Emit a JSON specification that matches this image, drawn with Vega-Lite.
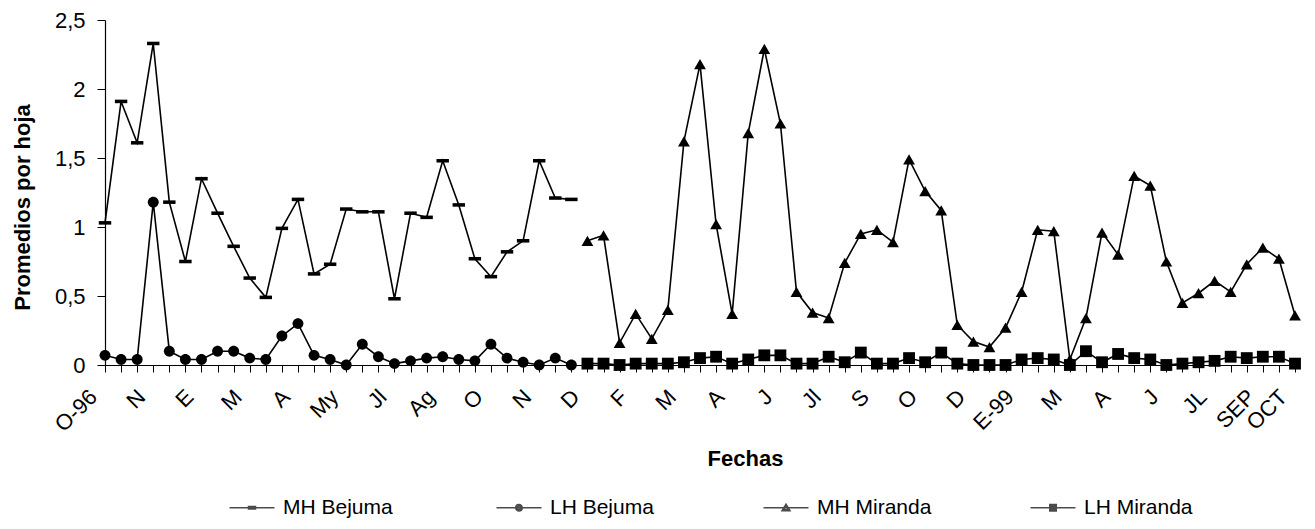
{
  "$schema": "https://vega.github.io/schema/vega-lite/v6.json",
  "width": 1190,
  "height": 345,
  "autosize": "none",
  "padding": {"left": 105, "top": 20, "right": 20, "bottom": 164},
  "background": "white",
  "config": {
    "view": {"stroke": null},
    "font": "Liberation Sans",
    "axis": {"labelFont": "Liberation Sans", "titleFont": "Liberation Sans", "labelColor": "black", "titleColor": "black", "domainColor": "black", "tickColor": "black", "grid": false},
    "legend": {"labelFont": "Liberation Sans"}
  },
  "data": {
    "values": [
      {"i": 0, "serie": "MH Bejuma", "v": 1.03}, {"i": 1, "serie": "MH Bejuma", "v": 1.91}, {"i": 2, "serie": "MH Bejuma", "v": 1.61}, {"i": 3, "serie": "MH Bejuma", "v": 2.33}, {"i": 4, "serie": "MH Bejuma", "v": 1.18}, {"i": 5, "serie": "MH Bejuma", "v": 0.75}, {"i": 6, "serie": "MH Bejuma", "v": 1.35}, {"i": 7, "serie": "MH Bejuma", "v": 1.10}, {"i": 8, "serie": "MH Bejuma", "v": 0.86}, {"i": 9, "serie": "MH Bejuma", "v": 0.63},
      {"i": 10, "serie": "MH Bejuma", "v": 0.49}, {"i": 11, "serie": "MH Bejuma", "v": 0.99}, {"i": 12, "serie": "MH Bejuma", "v": 1.20}, {"i": 13, "serie": "MH Bejuma", "v": 0.66}, {"i": 14, "serie": "MH Bejuma", "v": 0.73}, {"i": 15, "serie": "MH Bejuma", "v": 1.13}, {"i": 16, "serie": "MH Bejuma", "v": 1.11}, {"i": 17, "serie": "MH Bejuma", "v": 1.11}, {"i": 18, "serie": "MH Bejuma", "v": 0.48}, {"i": 19, "serie": "MH Bejuma", "v": 1.10},
      {"i": 20, "serie": "MH Bejuma", "v": 1.07}, {"i": 21, "serie": "MH Bejuma", "v": 1.48}, {"i": 22, "serie": "MH Bejuma", "v": 1.16}, {"i": 23, "serie": "MH Bejuma", "v": 0.77}, {"i": 24, "serie": "MH Bejuma", "v": 0.64}, {"i": 25, "serie": "MH Bejuma", "v": 0.82}, {"i": 26, "serie": "MH Bejuma", "v": 0.90}, {"i": 27, "serie": "MH Bejuma", "v": 1.48}, {"i": 28, "serie": "MH Bejuma", "v": 1.21}, {"i": 29, "serie": "MH Bejuma", "v": 1.20},
      {"i": 0, "serie": "LH Bejuma", "v": 0.07}, {"i": 1, "serie": "LH Bejuma", "v": 0.04}, {"i": 2, "serie": "LH Bejuma", "v": 0.04}, {"i": 3, "serie": "LH Bejuma", "v": 1.18}, {"i": 4, "serie": "LH Bejuma", "v": 0.10}, {"i": 5, "serie": "LH Bejuma", "v": 0.04}, {"i": 6, "serie": "LH Bejuma", "v": 0.04}, {"i": 7, "serie": "LH Bejuma", "v": 0.10}, {"i": 8, "serie": "LH Bejuma", "v": 0.10}, {"i": 9, "serie": "LH Bejuma", "v": 0.05},
      {"i": 10, "serie": "LH Bejuma", "v": 0.04}, {"i": 11, "serie": "LH Bejuma", "v": 0.21}, {"i": 12, "serie": "LH Bejuma", "v": 0.30}, {"i": 13, "serie": "LH Bejuma", "v": 0.07}, {"i": 14, "serie": "LH Bejuma", "v": 0.04}, {"i": 15, "serie": "LH Bejuma", "v": 0.00}, {"i": 16, "serie": "LH Bejuma", "v": 0.15}, {"i": 17, "serie": "LH Bejuma", "v": 0.06}, {"i": 18, "serie": "LH Bejuma", "v": 0.01}, {"i": 19, "serie": "LH Bejuma", "v": 0.03},
      {"i": 20, "serie": "LH Bejuma", "v": 0.05}, {"i": 21, "serie": "LH Bejuma", "v": 0.06}, {"i": 22, "serie": "LH Bejuma", "v": 0.04}, {"i": 23, "serie": "LH Bejuma", "v": 0.03}, {"i": 24, "serie": "LH Bejuma", "v": 0.15}, {"i": 25, "serie": "LH Bejuma", "v": 0.05}, {"i": 26, "serie": "LH Bejuma", "v": 0.02}, {"i": 27, "serie": "LH Bejuma", "v": 0.00}, {"i": 28, "serie": "LH Bejuma", "v": 0.05}, {"i": 29, "serie": "LH Bejuma", "v": 0.00},
      {"i": 30, "serie": "MH Miranda", "v": 0.90}, {"i": 31, "serie": "MH Miranda", "v": 0.94}, {"i": 32, "serie": "MH Miranda", "v": 0.16}, {"i": 33, "serie": "MH Miranda", "v": 0.37}, {"i": 34, "serie": "MH Miranda", "v": 0.19}, {"i": 35, "serie": "MH Miranda", "v": 0.40}, {"i": 36, "serie": "MH Miranda", "v": 1.62}, {"i": 37, "serie": "MH Miranda", "v": 2.18}, {"i": 38, "serie": "MH Miranda", "v": 1.02}, {"i": 39, "serie": "MH Miranda", "v": 0.37},
      {"i": 40, "serie": "MH Miranda", "v": 1.68}, {"i": 41, "serie": "MH Miranda", "v": 2.29}, {"i": 42, "serie": "MH Miranda", "v": 1.75}, {"i": 43, "serie": "MH Miranda", "v": 0.53}, {"i": 44, "serie": "MH Miranda", "v": 0.38}, {"i": 45, "serie": "MH Miranda", "v": 0.34}, {"i": 46, "serie": "MH Miranda", "v": 0.74}, {"i": 47, "serie": "MH Miranda", "v": 0.95}, {"i": 48, "serie": "MH Miranda", "v": 0.98}, {"i": 49, "serie": "MH Miranda", "v": 0.89},
      {"i": 50, "serie": "MH Miranda", "v": 1.49}, {"i": 51, "serie": "MH Miranda", "v": 1.26}, {"i": 52, "serie": "MH Miranda", "v": 1.12}, {"i": 53, "serie": "MH Miranda", "v": 0.29}, {"i": 54, "serie": "MH Miranda", "v": 0.17}, {"i": 55, "serie": "MH Miranda", "v": 0.13}, {"i": 56, "serie": "MH Miranda", "v": 0.27}, {"i": 57, "serie": "MH Miranda", "v": 0.53}, {"i": 58, "serie": "MH Miranda", "v": 0.98}, {"i": 59, "serie": "MH Miranda", "v": 0.97},
      {"i": 60, "serie": "MH Miranda", "v": 0.04}, {"i": 61, "serie": "MH Miranda", "v": 0.34}, {"i": 62, "serie": "MH Miranda", "v": 0.96}, {"i": 63, "serie": "MH Miranda", "v": 0.80}, {"i": 64, "serie": "MH Miranda", "v": 1.37}, {"i": 65, "serie": "MH Miranda", "v": 1.30}, {"i": 66, "serie": "MH Miranda", "v": 0.75}, {"i": 67, "serie": "MH Miranda", "v": 0.45}, {"i": 68, "serie": "MH Miranda", "v": 0.52}, {"i": 69, "serie": "MH Miranda", "v": 0.61},
      {"i": 70, "serie": "MH Miranda", "v": 0.53}, {"i": 71, "serie": "MH Miranda", "v": 0.73}, {"i": 72, "serie": "MH Miranda", "v": 0.85}, {"i": 73, "serie": "MH Miranda", "v": 0.77}, {"i": 74, "serie": "MH Miranda", "v": 0.36},
      {"i": 30, "serie": "LH Miranda", "v": 0.01}, {"i": 31, "serie": "LH Miranda", "v": 0.01}, {"i": 32, "serie": "LH Miranda", "v": 0.00}, {"i": 33, "serie": "LH Miranda", "v": 0.01}, {"i": 34, "serie": "LH Miranda", "v": 0.01}, {"i": 35, "serie": "LH Miranda", "v": 0.01}, {"i": 36, "serie": "LH Miranda", "v": 0.02}, {"i": 37, "serie": "LH Miranda", "v": 0.05}, {"i": 38, "serie": "LH Miranda", "v": 0.06}, {"i": 39, "serie": "LH Miranda", "v": 0.01},
      {"i": 40, "serie": "LH Miranda", "v": 0.04}, {"i": 41, "serie": "LH Miranda", "v": 0.07}, {"i": 42, "serie": "LH Miranda", "v": 0.07}, {"i": 43, "serie": "LH Miranda", "v": 0.01}, {"i": 44, "serie": "LH Miranda", "v": 0.01}, {"i": 45, "serie": "LH Miranda", "v": 0.06}, {"i": 46, "serie": "LH Miranda", "v": 0.02}, {"i": 47, "serie": "LH Miranda", "v": 0.09}, {"i": 48, "serie": "LH Miranda", "v": 0.01}, {"i": 49, "serie": "LH Miranda", "v": 0.01},
      {"i": 50, "serie": "LH Miranda", "v": 0.05}, {"i": 51, "serie": "LH Miranda", "v": 0.02}, {"i": 52, "serie": "LH Miranda", "v": 0.09}, {"i": 53, "serie": "LH Miranda", "v": 0.01}, {"i": 54, "serie": "LH Miranda", "v": 0.00}, {"i": 55, "serie": "LH Miranda", "v": 0.00}, {"i": 56, "serie": "LH Miranda", "v": 0.00}, {"i": 57, "serie": "LH Miranda", "v": 0.04}, {"i": 58, "serie": "LH Miranda", "v": 0.05}, {"i": 59, "serie": "LH Miranda", "v": 0.04},
      {"i": 60, "serie": "LH Miranda", "v": 0.00}, {"i": 61, "serie": "LH Miranda", "v": 0.10}, {"i": 62, "serie": "LH Miranda", "v": 0.02}, {"i": 63, "serie": "LH Miranda", "v": 0.08}, {"i": 64, "serie": "LH Miranda", "v": 0.05}, {"i": 65, "serie": "LH Miranda", "v": 0.04}, {"i": 66, "serie": "LH Miranda", "v": 0.00}, {"i": 67, "serie": "LH Miranda", "v": 0.01}, {"i": 68, "serie": "LH Miranda", "v": 0.02}, {"i": 69, "serie": "LH Miranda", "v": 0.03},
      {"i": 70, "serie": "LH Miranda", "v": 0.06}, {"i": 71, "serie": "LH Miranda", "v": 0.05}, {"i": 72, "serie": "LH Miranda", "v": 0.06}, {"i": 73, "serie": "LH Miranda", "v": 0.06}, {"i": 74, "serie": "LH Miranda", "v": 0.01}
    ]
  },
  "encoding": {
    "x": {
      "field": "i", "type": "quantitative",
      "scale": {"domain": [0, 74], "nice": false, "zero": false},
      "axis": {
        "title": "Fechas",
        "titleFontSize": 22, "titleFontWeight": "bold",
        "titleX": 640, "titleY": 93, "titleBaseline": "middle",
        "values": [0,1,2,3,4,5,6,7,8,9,10,11,12,13,14,15,16,17,18,19,20,21,22,23,24,25,26,27,28,29,30,31,32,33,34,35,36,37,38,39,40,41,42,43,44,45,46,47,48,49,50,51,52,53,54,55,56,57,58,59,60,61,62,63,64,65,66,67,68,69,70,71,72,73,74],
        "labelExpr": "['O-96','','','N','','','E','','','M','','','A','','','My','','','Jl','','','Ag','','','O','','','N','','','D','','','F','','','M','','','A','','','J','','','Jl','','','S','','','O','','','D','','','E-99','','','M','','','A','','','J','','','JL','','','SEP','','OCT'][datum.value]",
        "labelAngle": -45, "labelAlign": "right", "labelBaseline": "middle",
        "labelFontSize": 22, "labelOffset": -12, "labelPadding": 21,
        "labelOverlap": false, "labelFlush": false, "labelBound": false,
        "tickSize": 7, "tickWidth": 1, "domainWidth": 1.2
      }
    },
    "y": {
      "field": "v", "type": "quantitative",
      "scale": {"domain": [0, 2.5], "nice": false},
      "axis": {
        "title": "Promedios por hoja",
        "titleFontSize": 22, "titleFontWeight": "bold",
        "titleX": -83, "titleY": 187, "titleBaseline": "middle", "titleAngle": -90,
        "values": [0, 0.5, 1, 1.5, 2, 2.5],
        "labelExpr": "replace(format(datum.value, '~g'), '.', ',')",
        "labelFontSize": 22, "labelPadding": 12,
        "tickSize": 8, "tickWidth": 1, "domainWidth": 1.2
      }
    }
  },
  "layer": [
    {
      "mark": {"type": "line", "color": "black", "strokeWidth": 1.6},
      "encoding": {"detail": {"field": "serie"}}
    },
    {
      "mark": {"type": "point", "filled": true, "color": "black", "opacity": 1, "size": 140},
      "encoding": {
        "shape": {
          "field": "serie", "type": "nominal",
          "scale": {
            "domain": ["MH Bejuma", "LH Bejuma", "MH Miranda", "LH Miranda"],
            "range": ["M-1.05,-0.3H1.05V0.3H-1.05Z", "M-0.92,0A0.92,0.92 0 1,0 0.92,0A0.92,0.92 0 1,0 -0.92,0Z", "triangle-up", "square"]
          },
          "legend": null
        }
      }
    },
    {
      "mark": {"type": "point", "filled": false, "color": "black", "strokeWidth": 1.5, "size": 0},
      "encoding": {
        "shape": {
          "field": "serie", "type": "nominal",
          "scale": {
            "domain": ["MH Bejuma", "LH Bejuma", "MH Miranda", "LH Miranda"],
            "range": [
              "M-1,0H8M2.8,-0.25H4.2V0.25H2.8Z",
              "M-1,0H8M2.85,0A0.65,0.65 0 1,0 4.15,0A0.65,0.65 0 1,0 2.85,0ZM3.15,0A0.35,0.35 0 1,0 3.85,0A0.35,0.35 0 1,0 3.15,0ZM3.4,0H3.6",
              "M-1,0H8M3.5,-0.7L4.3,0.6H2.7ZM3.5,-0.3L3.95,0.4H3.05Z",
              "M-1,0H8M2.85,-0.65H4.15V0.65H2.85ZM3.15,-0.35H3.85V0.35H3.15ZM3.4,-0.1H3.6V0.1H3.4Z"
            ]
          },
          "legend": {
            "title": null, "orient": "none", "direction": "horizontal", "columns": 4,
            "legendX": 119, "legendY": 477, "gridAlign": "all", "columnPadding": 93,
            "symbolSize": 100, "symbolStrokeColor": "black", "symbolStrokeWidth": 1.5,
            "labelFontSize": 21, "labelColor": "black", "labelOffset": 38, "padding": 0
          }
        }
      }
    }
  ],
  "resolve": {"scale": {"shape": "independent"}, "legend": {"shape": "independent"}}
}
